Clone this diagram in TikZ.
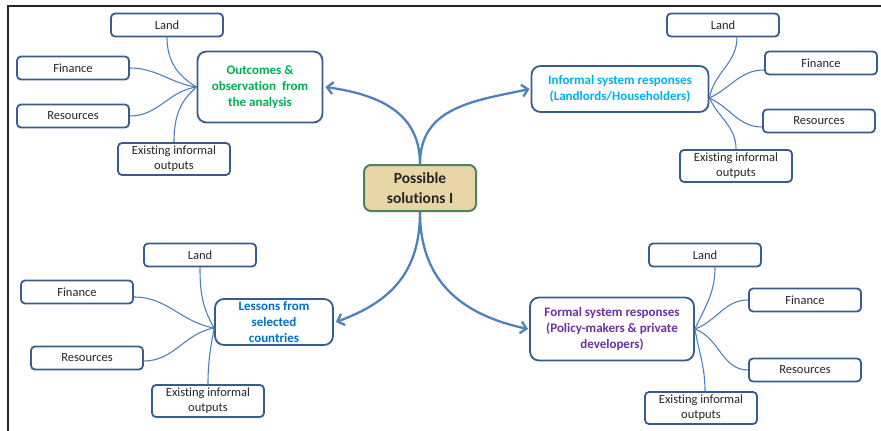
\documentclass[tikz,border=0pt]{standalone}
\usepackage{fontspec}
\setmainfont{Carlito}[Ligatures=NoCommon]
\usetikzlibrary{arrows.meta}
\definecolor{boxblue}{RGB}{56,93,138}
\definecolor{linkblue}{RGB}{79,129,189}
\definecolor{txtgray}{RGB}{38,38,38}
\definecolor{cgreen}{RGB}{0,176,80}
\definecolor{cltblue}{RGB}{0,176,240}
\definecolor{cblue}{RGB}{0,112,192}
\definecolor{cpurple}{RGB}{112,48,160}
\definecolor{ctrborder}{RGB}{80,128,92}
\definecolor{ctrfill}{RGB}{232,214,166}
\begin{document}
\begin{tikzpicture}[x=1pt,y=1pt,
  leaf/.style={draw=boxblue, line width=1.8pt, rounded corners=4pt, fill=white,
    minimum width=112pt, minimum height=23pt, inner sep=1pt, align=center,
    text=txtgray, font=\fontsize{12.5}{15}\selectfont},
  leaftwo/.style={leaf, minimum height=32pt},
  mainbox/.style={draw=boxblue, line width=1.8pt, rounded corners=9pt, fill=white,
    align=center, inner sep=2pt, font=\bfseries\fontsize{13}{16.3}\selectfont},
  ctrbox/.style={draw=ctrborder, line width=2pt, rounded corners=7pt, fill=ctrfill,
    minimum width=112pt, minimum height=46pt, align=center, text=txtgray,
    font=\bfseries\fontsize{15.5}{20}\selectfont},
  link/.style={draw=linkblue, line width=1.1pt},
  arr/.style={draw=linkblue, line width=2.3pt, looseness=1.1,
    -{Straight Barb[length=6pt,width=12pt,line width=2.3pt]}}
]
\useasboundingbox (0,0) rectangle (881,-431);
% frame
\draw[line width=1.5pt, black!85] (8,-431) -- (8,-6) -- (881,-6);

% center
\node[ctrbox] (ctr) at (420,-188) {Possible\\solutions I};

% main boxes
\node[mainbox, text=cgreen, minimum width=125pt, minimum height=71pt] (outc) at (260,-87)
  {Outcomes \&\\observation\ \ from\\the analysis};
\node[mainbox, text=cltblue, minimum width=177pt, minimum height=46pt] (inf) at (620,-89)
  {Informal system responses\\(Landlords/Householders)};
\node[mainbox, text=cblue, minimum width=118pt, minimum height=46pt] (les) at (274,-322)
  {Lessons from\\selected\\countries};
\node[mainbox, text=cpurple, minimum width=164pt, minimum height=63pt] (form) at (612,-329)
  {Formal system responses\\(Policy-makers \& private\\developers)};

% top-left leaves
\node[leaf] (landA) at (167,-25) {Land};
\node[leaf] (finA) at (73,-68) {Finance};
\node[leaf] (resA) at (73,-116) {Resources};
\node[leaftwo] (exA) at (174,-159) {Existing informal\\outputs};
% top-right leaves
\node[leaf] (landB) at (723,-25) {Land};
\node[leaf] (finB) at (821,-63) {Finance};
\node[leaf] (resB) at (819,-121) {Resources};
\node[leaftwo] (exB) at (736,-166) {Existing informal\\outputs};
% bottom-left leaves
\node[leaf] (landC) at (200,-255) {Land};
\node[leaf] (finC) at (77,-292) {Finance};
\node[leaf] (resC) at (87,-358) {Resources};
\node[leaftwo] (exC) at (208,-401) {Existing informal\\outputs};
% bottom-right leaves
\node[leaf] (landD) at (705,-255) {Land};
\node[leaf] (finD) at (805,-300) {Finance};
\node[leaf] (resD) at (805,-370) {Resources};
\node[leaftwo] (exD) at (701,-408) {Existing informal\\outputs};

% hubs
\coordinate (hA) at (outc.west);
\coordinate (hB) at ([yshift=-9pt]inf.east);
\coordinate (hC) at ([yshift=-6pt]les.west);
\coordinate (hD) at (form.east);

% leaf links
\draw[link] (landA.south) to[out=-90,in=150] (hA);
\draw[link] (finA.east) to[out=0,in=172] (hA);
\draw[link] (resA.east) to[out=0,in=188] (hA);
\draw[link] (exA.north) to[out=90,in=-140] (hA);

\draw[link] ([xshift=14pt]landB.south) to[out=-90,in=80] (hB);
\draw[link] ([yshift=-7pt]finB.west) to[out=180,in=25] (hB);
\draw[link] ([yshift=-6pt]resB.west) to[out=180,in=-25] (hB);
\draw[link] (exB.north) to[out=90,in=-65] (hB);

\draw[link] (landC.south) to[out=-90,in=120] (hC);
\draw[link] ([yshift=-5pt]finC.east) to[out=0,in=170] (hC);
\draw[link] ([yshift=-3pt]resC.east) to[out=0,in=190] (hC);
\draw[link] (exC.north) to[out=90,in=-100] (hC);

\draw[link] ([xshift=10pt]landD.south) to[out=-90,in=65] (hD);
\draw[link] (finD.west) to[out=180,in=20] (hD);
\draw[link] (resD.west) to[out=180,in=-20] (hD);
\draw[link] ([xshift=4pt]exD.north) to[out=90,in=-80] (hD);

% main arrows
\draw[arr] (ctr.north) to[out=90,in=-8] ([xshift=2pt]outc.east);
\draw[arr] (ctr.north) to[out=90,in=192] ([xshift=-1pt]inf.west);
\draw[arr] (ctr.south) to[out=-90,in=20] ([xshift=2pt]les.east);
\draw[arr] (ctr.south) to[out=-90,in=168] ([xshift=-1pt]form.west);
\end{tikzpicture}
\end{document}
